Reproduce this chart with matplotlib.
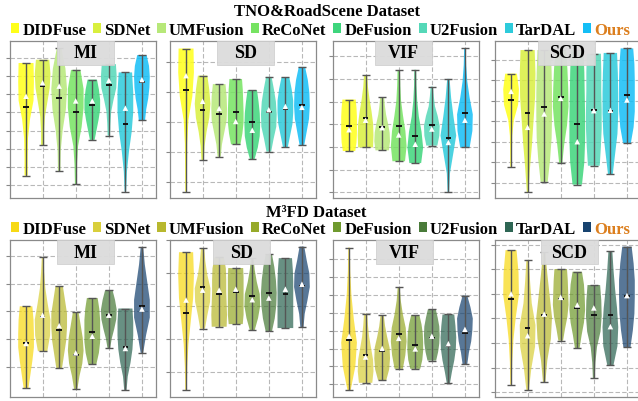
import numpy as np
import matplotlib
matplotlib.use('Agg')
import matplotlib.pyplot as plt
from matplotlib.patches import Patch, Rectangle

plt.rcParams['font.family'] = ['Liberation Serif', 'DejaVu Serif']

methods = ['DIDFuse', 'SDNet', 'UMFusion', 'ReCoNet', 'DeFusion', 'U2Fusion', 'TarDAL', 'Ours']
metrics = ['MI', 'SD', 'VIF', 'SCD']

colors_tno = ['#FFFF1A', '#D9EF3E', '#B7E879', '#76E362', '#3ED57C', '#55D8B8', '#2DCBDB', '#14BEF6']
colors_m3fd = ['#F7D915', '#D9CF3C', '#B8B82E', '#97AA2A', '#6F9A2E', '#4A7B3A', '#2E6654', '#17436F']
ours_color = '#DC7F1E'

# ---------------- TNO&RoadScene ----------------
tno_mi_max = [4.37, 4.46, 4.78, 4.18, 3.91, 4.34, 4.11, 4.59]
tno_mi_min = [1.25, 2.10, 1.38, 1.01, 2.24, 2.36, 0.81, 2.79]
tno_mi_median = [3.16, 3.73, 3.39, 3.02, 3.21, 3.76, 2.67, 3.85]
tno_mi_mean = [3.45, 3.82, 3.73, 3.32, 3.32, 3.89, 3.12, 3.91]
tno_mi_shape = [[0.2, 0.2, 0.25, 0.5, 0.95, 1.0, 0.95],
                [0.2, 0.2, 0.3, 0.6, 0.9, 1.0, 0.85],
                [0.15, 0.2, 0.45, 0.85, 1.0, 0.8, 0.3],
                [0.1, 0.15, 0.3, 0.75, 1.0, 1.0, 0.6],
                [0.3, 0.55, 0.8, 1.0, 1.0, 0.85, 0.6],
                [0.15, 0.2, 0.3, 0.6, 0.95, 1.0, 0.9],
                [0.1, 0.2, 0.45, 0.8, 1.0, 1.0, 0.85],
                [0.4, 0.55, 0.8, 0.95, 1.0, 0.9, 0.6]]

tno_sd_max = [54.4, 45.4, 42.6, 44.3, 40.6, 45.0, 44.8, 48.3]
tno_sd_min = [6.9, 17.4, 18.5, 22.6, 17.7, 20.2, 21.6, 22.4]
tno_sd_median = [40.6, 34.0, 32.7, 33.4, 30.1, 33.2, 34.3, 35.6]
tno_sd_mean = [45.4, 36.9, 34.5, 30.2, 27.3, 34.1, 35.2, 34.9]
tno_sd_shape = [[0.1, 0.12, 0.15, 0.3, 0.8, 1.0, 0.95],
                [0.15, 0.25, 0.5, 0.85, 1.0, 0.85, 0.6],
                [0.2, 0.35, 0.65, 0.95, 1.0, 0.95, 0.8],
                [0.6, 0.85, 1.0, 1.0, 0.95, 0.9, 0.8],
                [0.3, 0.7, 0.95, 1.0, 0.95, 0.8, 0.6],
                [0.3, 0.6, 0.95, 1.0, 0.9, 0.65, 0.35],
                [0.3, 0.6, 0.9, 1.0, 1.0, 0.8, 0.5],
                [0.3, 0.6, 0.9, 1.0, 0.95, 0.75, 0.4]]

tno_vif_max = [0.609, 0.717, 0.620, 0.737, 0.740, 0.666, 0.700, 0.835]
tno_vif_min = [0.382, 0.398, 0.385, 0.337, 0.329, 0.406, 0.200, 0.398]
tno_vif_median = [0.494, 0.529, 0.489, 0.494, 0.447, 0.497, 0.438, 0.550]
tno_vif_mean = [0.476, 0.518, 0.485, 0.453, 0.412, 0.479, 0.420, 0.518]
tno_vif_shape = [[0.75, 0.9, 0.95, 0.95, 0.95, 0.9, 0.8],
                 [0.95, 1.0, 0.95, 0.75, 0.5, 0.3, 0.2],
                 [0.85, 1.0, 0.95, 0.75, 0.5, 0.35, 0.25],
                 [0.8, 1.0, 0.85, 0.55, 0.3, 0.2, 0.15],
                 [0.75, 1.0, 0.8, 0.45, 0.25, 0.15, 0.12],
                 [0.7, 0.95, 1.0, 0.75, 0.4, 0.25, 0.15],
                 [0.1, 0.2, 0.6, 1.0, 0.65, 0.35, 0.15],
                 [0.6, 0.95, 1.0, 0.6, 0.3, 0.15, 0.1]]

tno_scd_max = [1.664, 1.894, 1.894, 1.894, 1.894, 1.858, 1.866, 1.910]
tno_scd_min = [0.756, 0.510, 0.612, 0.794, 0.584, 0.768, 0.684, 0.990]
tno_scd_median = [1.410, 1.282, 1.342, 1.434, 1.172, 1.310, 1.298, 1.456]
tno_scd_mean = [1.492, 1.142, 1.272, 1.424, 1.002, 1.304, 1.308, 1.408]
tno_scd_shape = [[0.1, 0.12, 0.15, 0.35, 0.9, 1.0, 0.75],
                 [0.1, 0.3, 0.55, 0.75, 0.95, 1.0, 0.9],
                 [0.45, 0.75, 0.95, 1.0, 1.0, 0.95, 0.85],
                 [0.2, 0.45, 0.8, 1.0, 0.95, 0.85, 0.7],
                 [0.6, 0.9, 1.0, 1.0, 0.95, 0.9, 0.8],
                 [0.75, 0.9, 1.0, 1.0, 0.95, 0.95, 0.9],
                 [0.3, 0.6, 0.9, 1.0, 1.0, 0.95, 0.85],
                 [0.5, 0.85, 1.0, 1.0, 1.0, 0.95, 0.8]]

# ---------------- M3FD ----------------
m3fd_mi_max = [2.09, 2.98, 2.45, 1.98, 2.24, 2.38, 2.05, 3.16]
m3fd_mi_min = [0.61, 1.28, 0.98, 0.60, 1.05, 1.33, 0.58, 1.25]
m3fd_mi_median = [1.42, 1.90, 1.66, 1.22, 1.63, 1.93, 1.35, 2.09]
m3fd_mi_mean = [1.42, 1.93, 1.74, 1.25, 1.55, 1.93, 1.33, 2.04]
m3fd_mi_shape = [[0.3, 0.55, 0.8, 1.0, 1.0, 0.95, 0.8],
                 [0.6, 0.95, 1.0, 0.65, 0.35, 0.2, 0.1],
                 [0.35, 0.6, 0.85, 0.95, 0.95, 0.7, 0.45],
                 [0.2, 0.45, 0.8, 0.95, 0.85, 0.6, 0.35],
                 [0.5, 0.8, 0.95, 0.95, 0.95, 0.85, 0.65],
                 [0.15, 0.35, 0.65, 0.9, 0.95, 0.75, 0.45],
                 [0.15, 0.3, 0.65, 0.9, 1.0, 1.0, 0.9],
                 [0.15, 0.5, 0.95, 0.95, 0.65, 0.35, 0.15]]

m3fd_sd_max = [56.4, 57.7, 55.0, 51.6, 54.6, 55.8, 54.6, 58.1]
m3fd_sd_min = [14.6, 33.2, 33.8, 34.6, 32.8, 32.4, 33.4, 33.6]
m3fd_sd_median = [38.0, 45.9, 43.7, 44.2, 43.2, 43.9, 43.7, 46.2]
m3fd_sd_mean = [41.9, 44.9, 44.9, 45.2, 42.0, 42.5, 45.2, 46.7]
m3fd_sd_shape = [[0.1, 0.15, 0.3, 0.6, 0.9, 1.0, 0.9],
                 [0.3, 0.6, 0.95, 1.0, 0.6, 0.35, 0.2],
                 [0.95, 1.0, 0.95, 0.9, 0.9, 0.85, 0.6],
                 [0.85, 0.95, 0.95, 0.95, 0.95, 0.95, 0.9],
                 [0.3, 0.7, 0.95, 0.9, 0.55, 0.3, 0.15],
                 [0.4, 0.75, 0.95, 1.0, 0.9, 0.7, 0.4],
                 [0.95, 0.95, 0.95, 0.95, 0.95, 0.9, 0.8],
                 [0.2, 0.35, 0.7, 1.0, 0.95, 0.6, 0.3]]

m3fd_vif_max = [0.963, 0.594, 0.586, 0.743, 0.586, 0.619, 0.590, 0.695]
m3fd_vif_min = [0.168, 0.209, 0.224, 0.287, 0.287, 0.333, 0.206, 0.313]
m3fd_vif_median = [0.446, 0.364, 0.386, 0.479, 0.418, 0.460, 0.414, 0.484]
m3fd_vif_mean = [0.469, 0.353, 0.401, 0.457, 0.398, 0.469, 0.427, 0.507]
m3fd_vif_shape = [[0.2, 0.8, 1.0, 0.6, 0.3, 0.15, 0.1],
                  [0.85, 1.0, 0.95, 0.7, 0.45, 0.3, 0.2],
                  [0.5, 0.85, 0.95, 0.9, 0.6, 0.35, 0.2],
                  [0.5, 0.8, 0.95, 0.85, 0.5, 0.25, 0.12],
                  [0.6, 0.85, 0.95, 0.95, 0.9, 0.75, 0.5],
                  [0.55, 0.8, 0.95, 1.0, 0.95, 0.75, 0.5],
                  [0.2, 0.45, 0.75, 0.95, 1.0, 0.9, 0.75],
                  [0.3, 0.5, 0.8, 0.95, 1.0, 0.7, 0.3]]

m3fd_scd_max = [1.556, 1.476, 1.538, 1.402, 1.380, 1.272, 1.546, 1.584]
m3fd_scd_min = [0.462, 0.418, 0.482, 0.820, 0.760, 0.516, 0.622, 0.766]
m3fd_scd_median = [1.158, 0.922, 1.028, 1.158, 1.086, 1.028, 1.028, 1.186]
m3fd_scd_mean = [1.200, 0.860, 1.036, 1.172, 1.110, 1.086, 0.934, 1.186]
m3fd_scd_shape = [[0.1, 0.15, 0.3, 0.6, 1.0, 0.95, 0.7],
                  [0.15, 0.45, 0.9, 0.95, 0.5, 0.3, 0.15],
                  [0.15, 0.4, 0.85, 1.0, 0.7, 0.4, 0.15],
                  [0.3, 0.55, 0.85, 1.0, 0.95, 0.9, 0.8],
                  [0.3, 0.55, 0.85, 1.0, 0.95, 0.85, 0.6],
                  [0.12, 0.2, 0.4, 0.85, 1.0, 0.95, 0.8],
                  [0.4, 0.9, 1.0, 0.85, 0.6, 0.4, 0.25],
                  [0.45, 0.75, 0.95, 1.0, 1.0, 0.85, 0.6]]

tno_panels = [
    (tno_mi_max, tno_mi_min, tno_mi_median, tno_mi_mean, tno_mi_shape, (0.63, 4.98), np.arange(1.0, 4.51, 0.5)),
    (tno_sd_max, tno_sd_min, tno_sd_median, tno_sd_mean, tno_sd_shape, (4.8, 56.9), np.arange(10, 51, 10)),
    (tno_vif_max, tno_vif_min, tno_vif_median, tno_vif_mean, tno_vif_shape, (0.175, 0.867), np.arange(0.2, 0.81, 0.1)),
    (tno_scd_max, tno_scd_min, tno_scd_median, tno_scd_mean, tno_scd_shape, (0.454, 1.982), np.arange(0.6, 1.81, 0.2)),
]
m3fd_panels = [
    (m3fd_mi_max, m3fd_mi_min, m3fd_mi_median, m3fd_mi_mean, m3fd_mi_shape, (0.455, 3.285), np.arange(1.0, 3.01, 0.5)),
    (m3fd_sd_max, m3fd_sd_min, m3fd_sd_median, m3fd_sd_mean, m3fd_sd_shape, (12.5, 60.1), np.arange(20, 61, 10)),
    (m3fd_vif_max, m3fd_vif_min, m3fd_vif_median, m3fd_vif_mean, m3fd_vif_shape, (0.13, 1.005), np.arange(0.2, 0.91, 0.1)),
    (m3fd_scd_max, m3fd_scd_min, m3fd_scd_median, m3fd_scd_mean, m3fd_scd_shape, (0.362, 1.638), np.arange(0.4, 1.61, 0.2)),
]

W, H = 638, 402
fig = plt.figure(figsize=(W / 100, H / 100), dpi=100)

ax_lefts = [10, 170, 333, 495]
ax_w = 146
rows = [
    dict(top=42, panels=tno_panels, colors=colors_tno, alpha=0.85, boxx=[0.32, 0.32, 0.285, 0.295]),
    dict(top=241, panels=m3fd_panels, colors=colors_m3fd, alpha=0.72, boxx=[0.32, 0.295, 0.295, 0.315]),
]
ax_h = 157
positions = np.arange(1, 9)

for row in rows:
    for k, (mx, mn, med, mean, shape, ylim, yticks) in enumerate(row['panels']):
        ax = fig.add_axes([ax_lefts[k] / W, 1 - (row['top'] + ax_h) / H, ax_w / W, ax_h / H])
        stats = []
        for i in range(8):
            prof = np.array(shape[i])
            coords = np.linspace(mn[i], mx[i], len(prof))
            stats.append(dict(coords=coords, vals=prof, mean=mean[i], median=med[i],
                              min=mn[i], max=mx[i]))
        parts = ax.violin(stats, positions=positions, widths=0.95, showmeans=False,
                          showextrema=True, showmedians=False)
        for body, c in zip(parts['bodies'], row['colors']):
            body.set_facecolor(c)
            body.set_edgecolor('none')
            body.set_alpha(row['alpha'])
            body.set_zorder(2)
        for key in ('cbars', 'cmins', 'cmaxes'):
            parts[key].set_color('#555555')
            parts[key].set_linewidth(1.0)
            parts[key].set_zorder(3)
        ax.hlines(med, positions - 0.17, positions + 0.17, colors='#111111', linewidth=1.4, zorder=4)
        ax.scatter(positions, mean, marker='^', s=16, color='white', edgecolors='none', zorder=5)

        ax.set_xlim(0.03, 8.85)
        ax.set_ylim(*ylim)
        ax.set_xticks([2, 4, 6, 8])
        ax.set_yticks(yticks)
        ax.set_xticklabels([])
        ax.set_yticklabels([])
        ax.tick_params(axis='x', length=0)
        ax.tick_params(axis='y', length=3, width=0.8, color='#888888', direction='out')
        ax.grid(True, linestyle=(0, (4, 2)), color='#b8b8b8', linewidth=0.8, zorder=0)
        ax.set_axisbelow(True)
        for sp in ax.spines.values():
            sp.set_color('#8a8a8a')
            sp.set_linewidth(0.9)

        bx = row['boxx'][k]
        bh = 24 / ax_h
        ax.add_patch(Rectangle((bx, 1 - bh), 57 / ax_w, bh, transform=ax.transAxes,
                               facecolor='#dcdcdc', edgecolor='#cfcfcf', linewidth=0.6,
                               alpha=0.95, zorder=6, clip_on=False))
        ax.text(bx + 57 / ax_w / 2, 1 - bh / 2, metrics[k], transform=ax.transAxes,
                ha='center', va='center', fontsize=13, fontweight='bold', zorder=7)

# Titles
fig.text(327 / W, 1 - 12 / H, 'TNO&RoadScene Dataset', ha='center', va='center',
         fontsize=12, fontweight='bold')
fig.text(316 / W, 1 - 213 / H, 'M³FD Dataset', ha='center', va='center',
         fontsize=12, fontweight='bold')

# Legends
for cols, ycen in ((colors_tno, 31), (colors_m3fd, 230)):
    handles = [Patch(facecolor=c, edgecolor='none') for c in cols]
    leg = fig.legend(handles, methods, loc='center left', bbox_to_anchor=(11 / W, 1 - ycen / H),
                     ncol=8, frameon=False, handlelength=0.5, handleheight=0.5,
                     handletextpad=0.18, columnspacing=0.4, borderaxespad=0, borderpad=0,
                     prop=dict(weight='bold', size=12))
    leg.get_texts()[-1].set_color(ours_color)

fig.savefig('out.png', dpi=100)
